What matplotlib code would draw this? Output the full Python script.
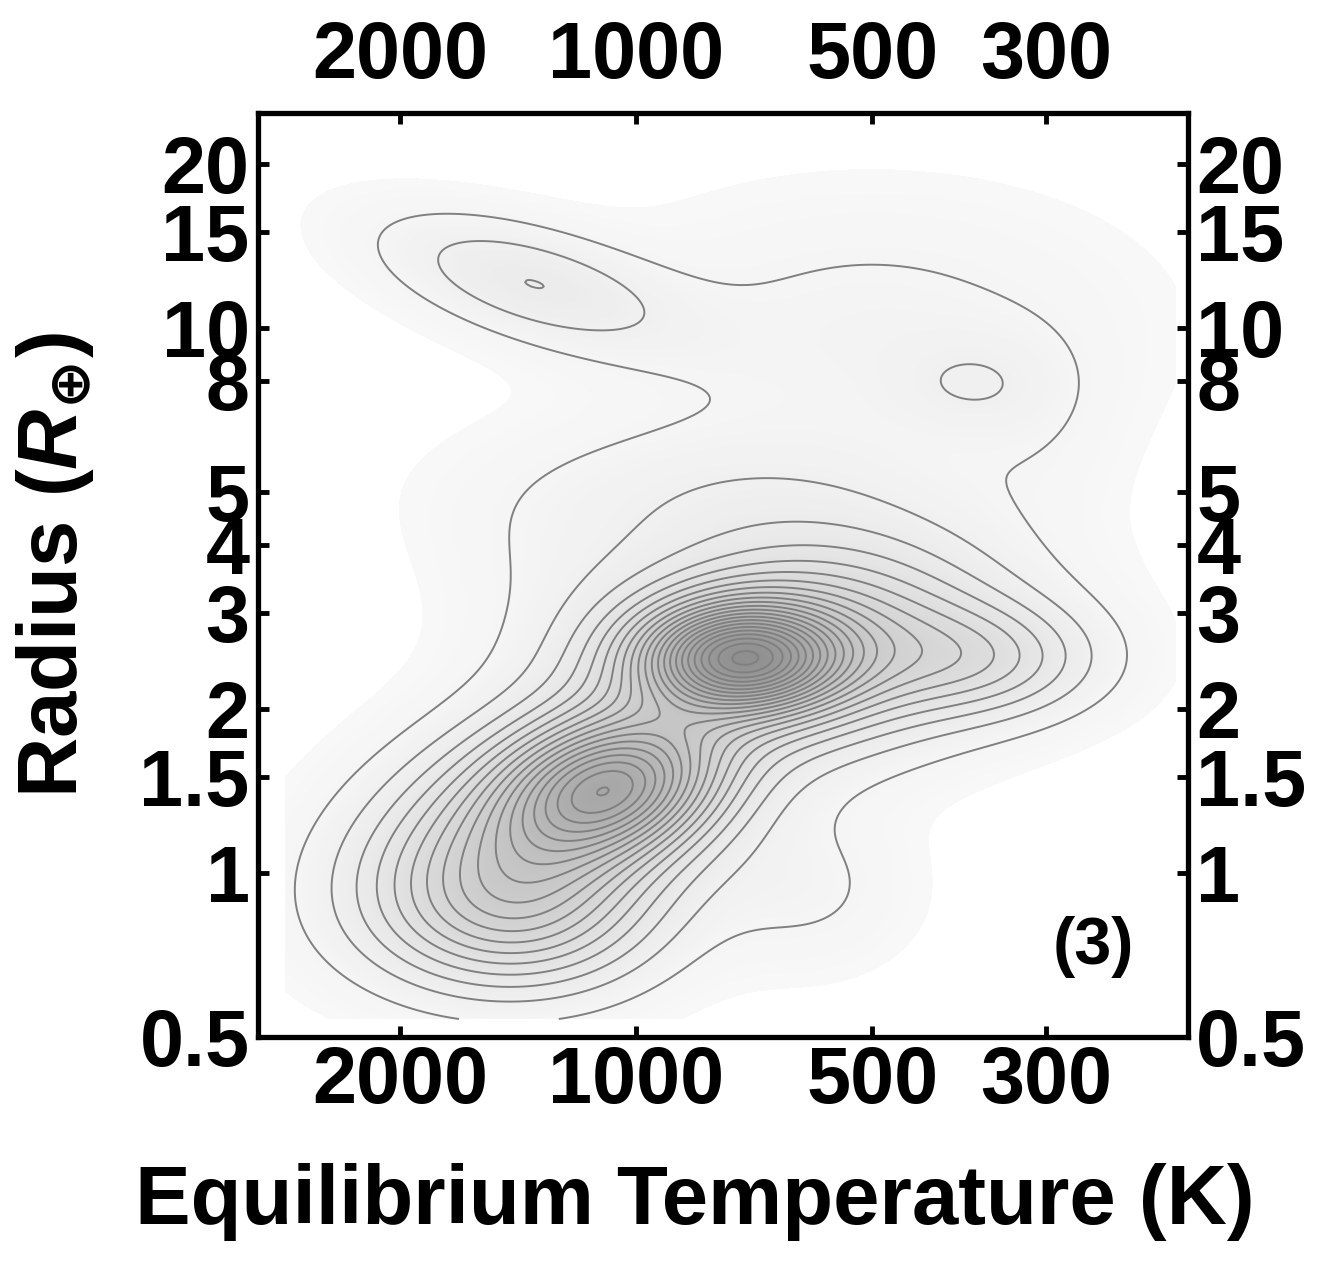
import numpy as np
import matplotlib.pyplot as plt
from matplotlib.colors import LinearSegmentedColormap
from matplotlib.transforms import ScaledTranslation

plt.rcParams['font.family'] = ['Liberation Sans', 'DejaVu Sans']
plt.rcParams['font.weight'] = 'bold'
plt.rcParams['mathtext.fontset'] = 'custom'
plt.rcParams['mathtext.rm'] = 'Liberation Sans:bold'
plt.rcParams['mathtext.it'] = 'Liberation Sans:italic:bold'
plt.rcParams['mathtext.bf'] = 'DejaVu Sans:bold'

# axis ticks
temp_ticks = [2000, 1000, 500, 300]
temp_labels = ['2000', '1000', '500', '300']
radius_ticks = [0.5, 1, 1.5, 2, 3, 4, 5, 8, 10, 15, 20]
radius_labels = ['0.5', '1', '1.5', '2', '3', '4', '5', '8', '10', '15', '20']

# smoothed occurrence density, as a sum of bumps in log10(T_eq), log10(R)
# height is given in units of one contour step
comp_logT = [2.867, 2.800, 3.027, 3.120, 3.150, 2.555, 2.780, 3.140, 2.575, 2.700, 2.900, 3.120, 2.485]
comp_logR = [0.394, 0.420, 0.161, 0.090, -0.080, 0.390, -0.030, 1.085, 0.895, 1.000, 0.700, 0.580, 0.830]
comp_sigT = [0.085, 0.170, 0.090, 0.145, 0.120, 0.100, 0.090, 0.130, 0.070, 0.220, 0.200, 0.100, 0.070]
comp_sigR = [0.065, 0.130, 0.085, 0.135, 0.100, 0.070, 0.100, 0.085, 0.060, 0.160, 0.095, 0.100, 0.120]
comp_rho = [0.0, -0.15, -0.2, -0.3, 0.0, 0.0, 0.0, 0.55, 0.0, 0.0, 0.0, 0.0, 0.0]
comp_height = [15.0, 8.5, 11.0, 7.8, 5.5, 3.5, 1.1, 2.85, 1.0, 1.3, 1.4, 0.5, 0.5]

# range covered by the density map
logT_range = (3.447, 2.312)
logR_range = (-0.268, 1.30)

u = np.linspace(logT_range[1], logT_range[0], 400)
v = np.linspace(logR_range[0], logR_range[1], 400)
U, V = np.meshgrid(u, v)
Z = np.zeros_like(U)
for t0, r0, st, sr, rho, h in zip(comp_logT, comp_logR, comp_sigT, comp_sigR, comp_rho, comp_height):
    a = (U - t0) / st
    b = (V - r0) / sr
    q = (a * a - 2 * rho * a * b + b * b) / (1 - rho * rho)
    Z += h * np.exp(-0.5 * q)

T = 10 ** U
R = 10 ** V

fig = plt.figure(figsize=(13.22, 12.65), dpi=100)
ax = fig.add_axes([258 / 1322, 228 / 1265, 930 / 1322, 924 / 1265])

gray = LinearSegmentedColormap.from_list('g', ['#f8f8f8', '#8c8c8c'])
ax.contourf(T, R, Z, levels=np.linspace(0.25, 24, 160), cmap=gray, extend='max', antialiased=False)
ax.contour(T, R, Z, levels=np.arange(1, 30), colors='#808080', linewidths=1.4)

ax.set_xscale('log')
ax.set_yscale('log')
ax.set_xlim(3035, 198)
ax.set_ylim(0.5, 24.8)

ax.set_xticks(temp_ticks)
ax.set_xticklabels(temp_labels)
ax.set_yticks(radius_ticks)
ax.set_yticklabels(radius_labels)
ax.minorticks_off()
ax.tick_params(which='major', direction='in', length=8, width=3.5,
               top=True, right=True, labeltop=True, labelright=True,
               labelsize=57, pad=6)
for s in ax.spines.values():
    s.set_linewidth(3.8)

# lift the top temperature labels a little
for t in ax.xaxis.get_major_ticks():
    t.label2.set_transform(t.label2.get_transform() + ScaledTranslation(0, 0.1, fig.dpi_scale_trans))

ax.text(0.898, 0.097, '(3)', transform=ax.transAxes, fontsize=48,
        fontweight='bold', ha='center', va='center')

fig.text(695 / 1322, 1 - 1202 / 1265, 'Equilibrium Temperature (K)',
         fontsize=60, fontweight='bold', ha='center', va='center')
fig.text(55 / 1322, 1 - 565 / 1265, r'Radius ($R_{\mathbf{\oplus}}$)',
         fontsize=60, fontweight='bold', ha='center', va='center', rotation=90)

fig.savefig('out.png', dpi=100)
